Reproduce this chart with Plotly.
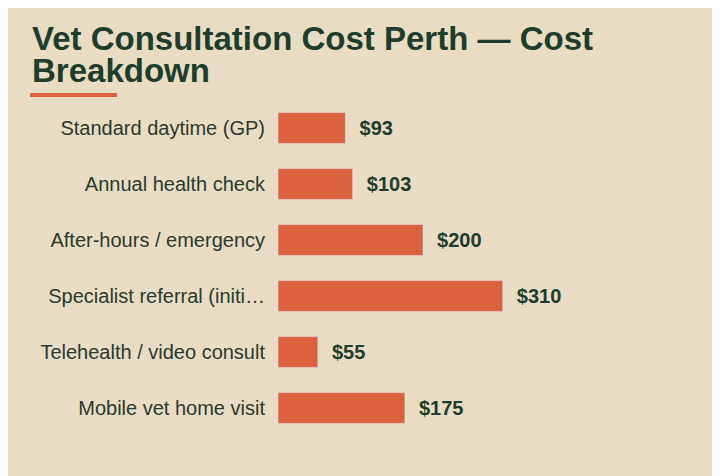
import plotly.graph_objects as go

categories = ["Standard daytime (GP)", "Annual health check", "After-hours / emergency",
              "Specialist referral (initi…", "Telehealth / video consult", "Mobile vet home visit"]
costs = [93, 103, 200, 310, 55, 175]
labels = ["$" + str(c) for c in costs]

bg = "#e8dcc5"
green = "#1e3d2b"
orange = "#dc623d"

# plot area in layout pixels: x 270..560, y 92..428
pw, ph, left, bottom = 290, 336, 270, 428


def px(x):
    return (x - left) / pw


def py(y):
    return (bottom - y) / ph


fig = go.Figure(go.Bar(
    x=costs, y=categories, orientation="h",
    marker_color=orange, text=labels, texttemplate="  %{text}", textposition="outside",
    textfont=dict(family="Liberation Sans", size=20, color=green, weight="bold"),
    cliponaxis=False, hoverinfo="skip",
))

title_font = dict(family="Liberation Sans", size=33, color=green, weight="bold")
fig.update_layout(
    width=720, height=476,
    paper_bgcolor=bg, plot_bgcolor=bg,
    margin=dict(l=left, r=720 - left - pw, t=92, b=476 - bottom),
    bargap=0.45,
    showlegend=False,
    font=dict(family="Liberation Sans", color=green),
    annotations=[
        dict(text="Vet Consultation Cost Perth — Cost", xref="paper", yref="paper",
             x=px(22), y=py(30), xanchor="left", yanchor="middle", showarrow=False, font=title_font),
        dict(text="Breakdown", xref="paper", yref="paper",
             x=px(22), y=py(62), xanchor="left", yanchor="middle", showarrow=False, font=title_font),
    ],
    shapes=[dict(type="rect", xref="paper", yref="paper",
                 x0=px(22), x1=px(109), y0=py(89), y1=py(85),
                 fillcolor=orange, line_width=0)],
)
fig.update_xaxes(range=[0, 400], visible=False)
fig.update_yaxes(autorange="reversed", showgrid=False, showline=False, ticks="",
                 ticklabelstandoff=12,
                 tickfont=dict(family="Liberation Sans", size=20, color="#2a3a2e"))

fig.write_html("out.html")
